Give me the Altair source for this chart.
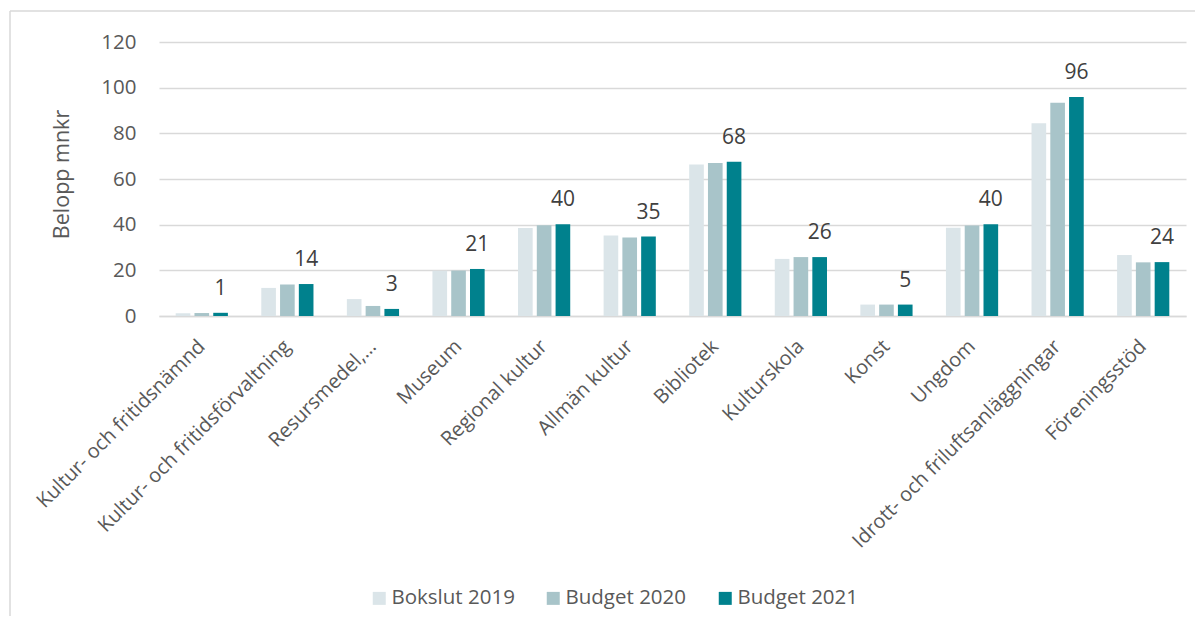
import altair as alt
import pandas as pd

categories = [
    "Kultur- och fritidsnämnd",
    "Kultur- och fritidsförvaltning",
    "Resursmedel,…",
    "Museum",
    "Regional kultur",
    "Allmän kultur",
    "Bibliotek",
    "Kulturskola",
    "Konst",
    "Ungdom",
    "Idrott- och friluftsanläggningar",
    "Föreningsstöd",
]
series = ["Bokslut 2019", "Budget 2020", "Budget 2021"]
bokslut_2019 = [1.2, 12.3, 7.4, 19.8, 38.5, 35.3, 66.4, 25.0, 5.0, 38.7, 84.4, 26.7]
budget_2020 = [1.3, 13.8, 4.4, 19.9, 39.7, 34.4, 67.0, 25.8, 5.0, 39.6, 93.4, 23.5]
budget_2021 = [1.4, 14.0, 3.1, 20.6, 40.2, 34.8, 67.6, 25.8, 5.0, 40.2, 95.9, 23.6]
colors = ["#dbe5e9", "#a8c4c9", "#00818d"]

rows = []
for s, vals in zip(series, [bokslut_2019, budget_2020, budget_2021]):
    for c, v in zip(categories, vals):
        rows.append({"kategori": c, "serie": s, "varde": v})
df = pd.DataFrame(rows)

FONT = "Open Sans"
GRAY = "#595959"

x_enc = alt.X(
    "kategori:N",
    sort=categories,
    title=None,
    scale=alt.Scale(paddingInner=0.39, paddingOuter=0.195),
    axis=alt.Axis(
        labelAngle=-45,
        labelAlign="right",
        labelBaseline="middle",
        labelPadding=27,
        labelFontSize=20,
        labelColor=GRAY,
        labelFont=FONT,
        labelLimit=400,
        ticks=False,
        domainColor="#d9d9d9",
        domainWidth=1.5,
        grid=False,
    ),
)
xo_enc = alt.XOffset(
    "serie:N", sort=series, scale=alt.Scale(domain=series, paddingInner=0.22, paddingOuter=0)
)
y_enc = alt.Y(
    "varde:Q",
    title="Belopp mnkr",
    scale=alt.Scale(domain=[0, 120], nice=False),
    axis=alt.Axis(
        values=[0, 20, 40, 60, 80, 100, 120],
        grid=True,
        gridColor="#d9d9d9",
        gridWidth=1.3,
        domain=False,
        ticks=False,
        labelPadding=23,
        labelFontSize=20.5,
        labelColor=GRAY,
        labelFont=FONT,
        titleFontSize=21.5,
        titleFontWeight="normal",
        titleColor=GRAY,
        titleFont=FONT,
        titleX=-97,
        titleY=132,
        titleAngle=-90,
        titleAlign="center",
        titleBaseline="middle",
    ),
)

bars = alt.Chart(df).mark_bar().encode(
    x=x_enc,
    xOffset=xo_enc,
    y=y_enc,
    color=alt.Color(
        "serie:N",
        sort=series,
        scale=alt.Scale(domain=series, range=colors),
        legend=alt.Legend(
            title=None,
            orient="none",
            legendX=210,
            legendY=546,
            direction="horizontal",
            symbolType="square",
            symbolSize=169,
            symbolStrokeWidth=0,
            labelFontSize=20.5,
            labelColor=GRAY,
            labelFont=FONT,
            labelOffset=2,
            columnPadding=28,
        ),
    ),
)

labels = (
    alt.Chart(df)
    .transform_filter(alt.datum.serie == "Budget 2021")
    .mark_text(fontSize=21, color="#404040", font=FONT, baseline="alphabetic", dy=-18)
    .encode(
        x=alt.X("kategori:N", sort=categories),
        xOffset=xo_enc,
        y="varde:Q",
        text=alt.Text("varde:Q", format=".0f"),
    )
)

frame = pd.DataFrame({"a": [0]})
top_line = alt.Chart(frame).mark_rule(color="#d9d9d9", strokeWidth=1.5).encode(
    x=alt.value(-149), x2=alt.value(1044), y=alt.value(-31)
)
left_line = alt.Chart(frame).mark_rule(color="#d9d9d9", strokeWidth=1.5).encode(
    x=alt.value(-149), y=alt.value(-31), y2=alt.value(590)
)

chart = (
    alt.layer(bars, labels, top_line, left_line)
    .properties(
        width=1027,
        height=274,
        padding={"left": 151, "top": 34, "right": 9, "bottom": 300},
        autosize=alt.AutoSizeParams(type="none"),
    )
    .configure_view(stroke=None)
)

chart.save("out.html", embed_options={"renderer": "svg", "actions": False})
